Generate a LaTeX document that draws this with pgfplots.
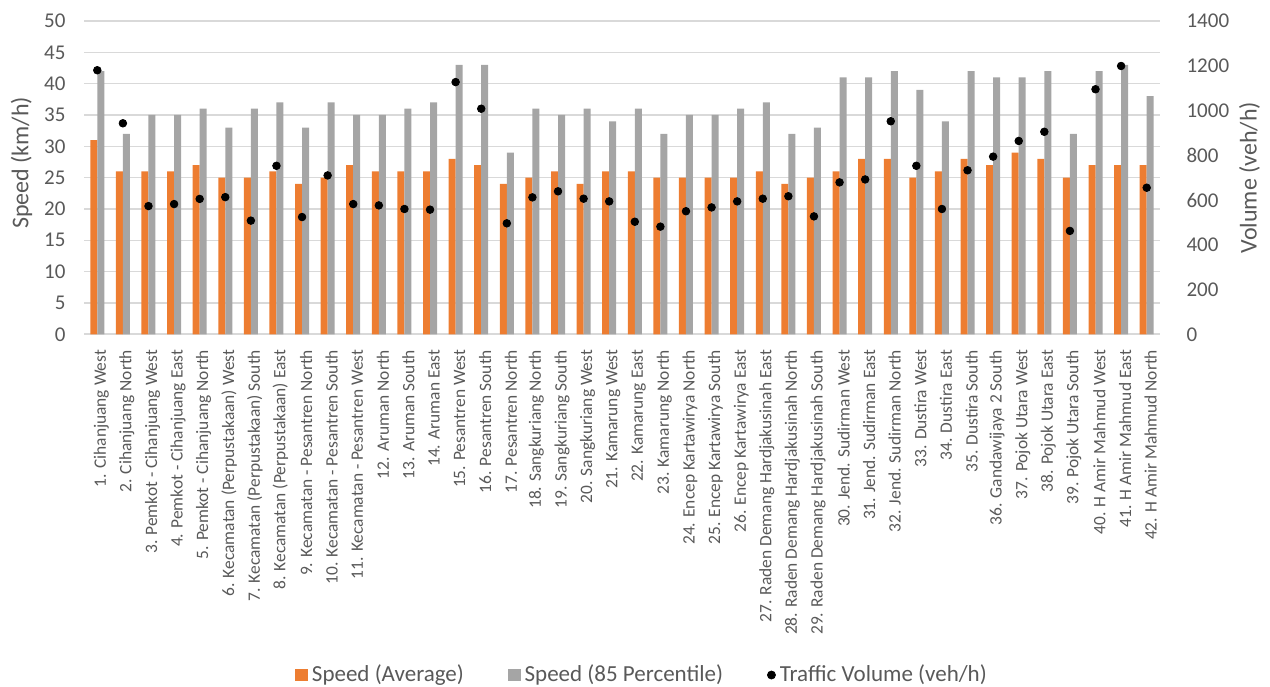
\documentclass[border=0pt]{standalone}
\usepackage{pgfplots}
\usepackage{pgfplotstable}
\usepackage{fontspec}
\setmainfont{Carlito}
\pgfplotsset{compat=1.18}
\definecolor{cOrange}{HTML}{ED7D31}
\definecolor{cGray}{HTML}{A5A5A5}
\definecolor{cText}{HTML}{595959}
\definecolor{cGrid}{HTML}{D9D9D9}
\pgfplotstableread{
cat avg p85 vol
1 31 42 1180
2 26 32 943
3 26 35 573
4 26 35 582
5 27 36 605
6 25 33 613
7 25 36 508
8 26 37 753
9 24 33 524
10 25 37 710
11 27 35 582
12 26 35 576
13 26 36 560
14 26 37 557
15 28 43 1127
16 27 43 1008
17 24 29 496
18 25 36 612
19 26 35 639
20 24 36 606
21 26 34 594
22 26 36 503
23 25 32 481
24 25 35 550
25 25 35 567
26 25 36 594
27 26 37 606
28 24 32 617
29 25 33 527
30 26 41 679
31 28 41 692
32 28 42 952
33 25 39 753
34 26 34 560
35 28 42 733
36 27 41 794
37 29 41 864
38 28 42 905
39 25 32 462
40 27 42 1095
41 27 43 1199
42 27 38 655
}\datatable
\begin{document}
\begin{tikzpicture}
\useasboundingbox (-42.25pt,-175.85pt) rectangle (592.75pt,167.15pt);
\begin{axis}[
  at={(0,0)}, anchor=south west,
  scale only axis, width=537.5pt, height=156.65pt,
  xmin=0.5, xmax=42.5, ymin=0, ymax=50,
  ybar=0pt, bar width=3.5pt,
  ytick={0,5,...,50},
  xtick={1,...,42},
  xticklabels={1. Cihanjuang West,2. Cihanjuang North,3. Pemkot - Cihanjuang West,4. Pemkot - Cihanjuang East,5. Pemkot - Cihanjuang North,6. Kecamatan (Perpustakaan) West,7. Kecamatan (Perpustakaan) South,8. Kecamatan (Perpustakaan) East,9. Kecamatan - Pesantren North,10. Kecamatan - Pesantren South,11. Kecamatan - Pesantren West,12. Aruman North,13. Aruman South,14. Aruman East,15. Pesantren West,16. Pesantren South,17. Pesantren North,18. Sangkuriang North,19. Sangkuriang South,20. Sangkuriang West,21. Kamarung West,22. Kamarung East,23. Kamarung North,24. Encep Kartawirya North,25. Encep Kartawirya South,26. Encep Kartawirya East,27. Raden Demang Hardjakusinah East,28. Raden Demang Hardjakusinah North,29. Raden Demang Hardjakusinah South,30. Jend. Sudirman West,31. Jend. Sudirman East,32. Jend. Sudirman North,33. Dustira West,34. Dustira East,35. Dustira South,36. Gandawijaya 2 South,37. Pojok Utara West,38. Pojok Utara East,39. Pojok Utara South,40. H Amir Mahmud West,41. H Amir Mahmud East,42. H Amir Mahmud North},
  xticklabel style={rotate=90, anchor=east, font=\fontsize{8.7}{10}\selectfont, text=cText, yshift=-2pt},
  yticklabel style={font=\fontsize{10.5}{12}\selectfont, text=cText, xshift=-6pt},
  /pgf/number format/assume math mode=true,
  ymajorgrids, grid style={cGrid, line width=0.75pt},
  axis x line*=bottom, axis y line*=left,
  y axis line style={draw=none},
  x axis line style={cGrid, line width=0.9pt},
  tick style={draw=none},
  ylabel={Speed (km/h)},
  ylabel style={at={([xshift=-31.5pt]axis description cs:0,0.547)}, anchor=center, rotate=0, font=\fontsize{12}{14}\selectfont, text=cText},
  clip=false,
]
\addplot[fill=cOrange, draw=none] table[x=cat, y=avg] {\datatable};
\addplot[fill=cGray, draw=none] table[x=cat, y=p85] {\datatable};
\end{axis}
\begin{axis}[
  at={(0,0)}, anchor=south west,
  scale only axis, width=537.5pt, height=156.65pt,
  xmin=0.5, xmax=42.5, ymin=0, ymax=1400,
  ytick={0,200,...,1400},
  axis x line=none, axis y line*=right,
  y axis line style={draw=none},
  tick style={draw=none},
  yticklabel style={font=\fontsize{10.5}{12}\selectfont, text=cText, anchor=west, xshift=10pt},
  /pgf/number format/assume math mode=true,
  /pgf/number format/1000 sep={},
  ylabel={Volume (veh/h)},
  ylabel style={at={([xshift=45pt]axis description cs:1,0.5)}, anchor=center, font=\fontsize{12}{14}\selectfont, text=cText},
  legend style={at={(axis description cs:0.5195,-1.0875)}, anchor=center, draw=none, fill=none, legend columns=3, font=\fontsize{11.5}{13}\selectfont, text=cText, /tikz/every even column/.append style={column sep=20pt}},
  legend cell align=left,
  clip=false,
]
\addlegendimage{legend image code/.code={\fill[cOrange] (-1.5pt,-2.8pt) rectangle (4.5pt,2.8pt);}}
\addlegendentry{Speed (Average)}
\addlegendimage{legend image code/.code={\fill[cGray] (-1.5pt,-2.8pt) rectangle (4.5pt,2.8pt);}}
\addlegendentry{Speed (85 Percentile)}
\addplot[only marks, mark=*, mark size=1.9pt, black, legend image code/.code={\fill[black] (2.5pt,0pt) circle (2pt);}] table[x=cat, y=vol] {\datatable};
\addlegendentry{Traffic Volume (veh/h)}
\end{axis}
\end{tikzpicture}
\end{document}
